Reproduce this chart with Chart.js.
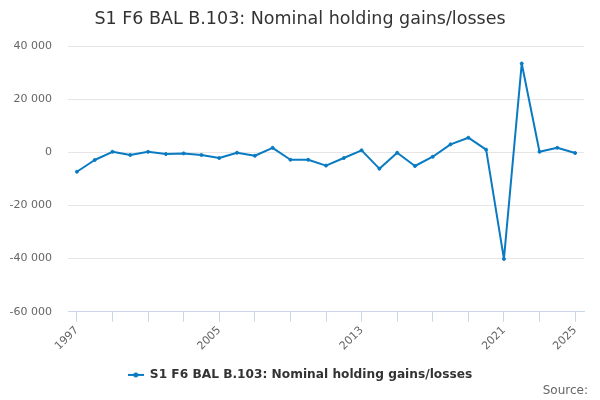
<!DOCTYPE html>
<html>
<head>
<meta charset="utf-8">
<script src="https://cdn.jsdelivr.net/npm/chart.js@4/dist/chart.umd.min.js"></script>
<style>
html,body{margin:0;padding:0;background:#fff;}
#wrap{width:600px;height:400px;position:relative;}
</style>
</head>
<body>
<div id="wrap"><canvas id="c"></canvas></div>
<script>
const years = ["1997","1998","1999","2000","2001","2002","2003","2004","2005","2006","2007","2008","2009","2010","2011","2012","2013","2014","2015","2016","2017","2018","2019","2020","2021","2022","2023","2024","2025"];
const values = [-7300,-2900,200,-1000,200,-650,-400,-1000,-2150,-150,-1300,1700,-2800,-2800,-5000,-2150,750,-6150,-150,-5150,-1650,3000,5500,1000,-40100,33400,200,1700,-250];
const shownYears = ["1997","2005","2013","2021","2025"];
const yTicks = [-60000,-40000,-20000,0,20000,40000];
const seriesName = "S1 F6 BAL B.103: Nominal holding gains/losses";
const titleText = "S1 F6 BAL B.103: Nominal holding gains/losses";
const sourceText = "Source:";
const lineColor = "#0a7bc2";

function fmt(v){
  const s = String(Math.abs(v)).replace(/\B(?=(\d{3})+(?!\d))/g, " ");
  return (v < 0 ? "-" : "") + s;
}

// legend symbol: line with a dot
const sym = document.createElement("canvas");
sym.width = 16; sym.height = 6;
(function(){
  const g = sym.getContext("2d");
  g.strokeStyle = lineColor; g.lineWidth = 2;
  g.beginPath(); g.moveTo(0,3); g.lineTo(16,3); g.stroke();
  g.fillStyle = lineColor; g.beginPath(); g.arc(8,3,2.5,0,Math.PI*2); g.fill();
})();

const sourcePlugin = {
  id: "sourceText",
  afterDraw(chart){
    const ctx = chart.ctx;
    ctx.save();
    ctx.font = "12px 'DejaVu Sans'";
    ctx.fillStyle = "#666";
    ctx.textAlign = "right";
    ctx.textBaseline = "middle";
    ctx.fillText(sourceText, 588, 391);
    ctx.restore();
  }
};

new Chart(document.getElementById("c"), {
  type: "line",
  data: {
    labels: years,
    datasets: [{
      label: seriesName,
      data: values,
      borderColor: lineColor,
      backgroundColor: lineColor,
      borderWidth: 2,
      borderJoinStyle: "round",
      borderCapStyle: "round",
      pointRadius: 1.5,
      pointBorderWidth: 1,
      pointHoverRadius: 2,
      tension: 0
    }]
  },
  options: {
    responsive: true,
    maintainAspectRatio: false,
    animation: false,
    layout: { padding: { left: 0, right: 0, top: 0, bottom: 9 } },
    plugins: {
      title: {
        display: true,
        text: titleText,
        color: "#333",
        font: { family: "'DejaVu Sans'", size: 17.5, weight: "normal" },
        padding: { top: 9, bottom: 16 }
      },
      legend: {
        position: "bottom",
        labels: {
          color: "#333",
          font: { family: "'DejaVu Sans'", size: 12.2, weight: "bold" },
          usePointStyle: true,
          pointStyleWidth: 16,
          padding: 10,
          generateLabels(chart){
            return chart.data.datasets.map((d,i)=>({
              text: d.label,
              fillStyle: lineColor,
              strokeStyle: lineColor,
              lineWidth: 0,
              pointStyle: sym,
              fontColor: "#333",
              datasetIndex: i,
              hidden: false
            }));
          }
        }
      },
      tooltip: { enabled: false }
    },
    scales: {
      x: {
        type: "category",
        offset: true,
        afterFit(scale){ scale.height = 47; },
        grid: {
          offset: false,
          drawOnChartArea: false,
          drawTicks: true,
          tickLength: 10,
          color: (ctx) => (ctx.index % 2 === 0 ? "#ccd6eb" : "rgba(0,0,0,0)"),
          lineWidth: 1
        },
        border: { display: true, color: "#ccd6eb", width: 1 },
        ticks: {
          autoSkip: false,
          minRotation: 45,
          maxRotation: 45,
          padding: 2,
          color: "#666",
          font: { family: "'DejaVu Sans'", size: 11 },
          callback(value, index){
            const l = years[index];
            return shownYears.includes(l) ? l : "";
          }
        }
      },
      y: {
        min: -60000,
        max: 40000,
        afterFit(scale){ scale.width = 68; },
        afterBuildTicks(scale){ scale.ticks = yTicks.map(v => ({ value: v })); },
        grid: { color: "#e6e6e6", drawTicks: false, lineWidth: 1 },
        border: { display: false },
        ticks: {
          padding: 16,
          color: "#666",
          font: { family: "'DejaVu Sans'", size: 11 },
          callback: (v) => fmt(v)
        }
      },
      yRight: {
        type: "linear",
        position: "right",
        display: true,
        afterFit(scale){ scale.width = 16; },
        grid: { drawOnChartArea: false, drawTicks: false, display: false },
        border: { display: false },
        ticks: { display: false }
      }
    }
  },
  plugins: [sourcePlugin]
});
</script>
</body>
</html>
